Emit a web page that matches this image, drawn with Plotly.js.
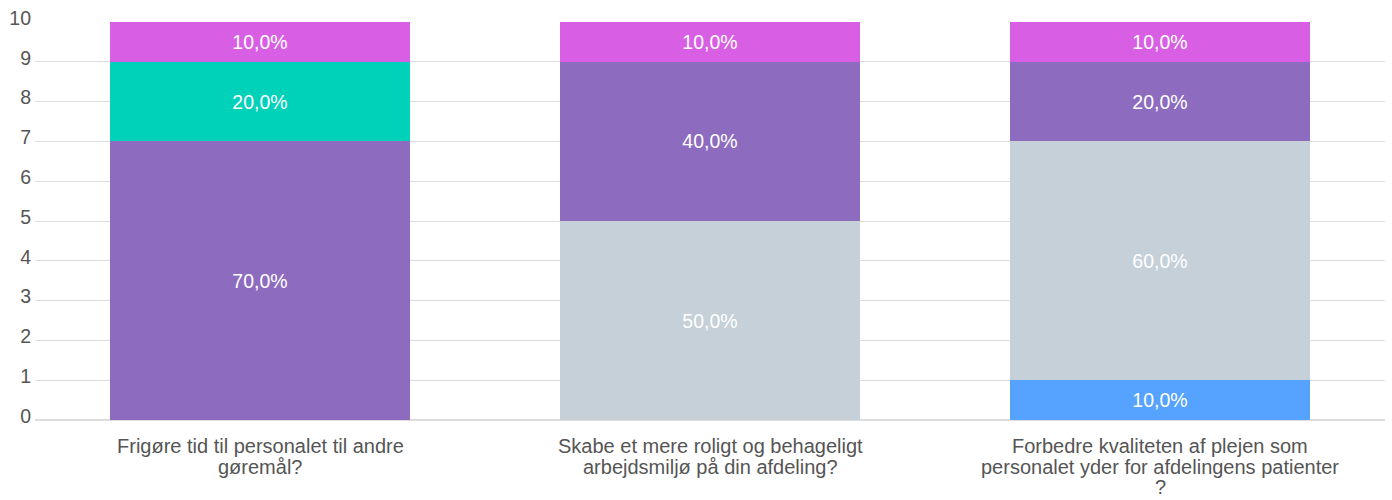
<!DOCTYPE html>
<html>
<head>
<meta charset="utf-8">
<script src="https://cdn.plot.ly/plotly-3.0.1.min.js"></script>
<style>html,body{margin:0;padding:0;background:#fff;}#chart{width:1392px;height:500px;}</style>
</head>
<body>
<div id="chart"></div>
<script>
const categories = [
  "Frigøre tid til personalet til andre gøremål?",
  "Skabe et mere roligt og behageligt arbejdsmiljø på din afdeling?",
  "Forbedre kvaliteten af plejen som personalet yder for afdelingens patienter ?"
];
const categoryLines = [
  ["Frigøre tid til personalet til andre", "gøremål?"],
  ["Skabe et mere roligt og behageligt", "arbejdsmiljø på din afdeling?"],
  ["Forbedre kvaliteten af plejen som", "personalet yder for afdelingens patienter", "?"]
];
const seriesBlue = [0, 0, 1];
const seriesGray = [0, 5, 6];
const seriesPurple = [7, 4, 2];
const seriesTeal = [2, 0, 0];
const seriesMagenta = [1, 1, 1];
const tickValues = [0,1,2,3,4,5,6,7,8,9,10];

const FONT = "Liberation Sans, Arial, sans-serif";
const allSeries = [
  {vals: seriesBlue, color: "#55a3fe"},
  {vals: seriesGray, color: "#c5d0d9"},
  {vals: seriesPurple, color: "#8d6bbf"},
  {vals: seriesTeal, color: "#00d1b9"},
  {vals: seriesMagenta, color: "#d85fe3"}
];
const totals = categories.map((c, i) => allSeries.reduce((s, a) => s + a.vals[i], 0));

const traces = allSeries.map(s => ({
  type: "bar",
  x: categories,
  y: s.vals.map(v => v === 0 ? null : v),
  marker: {color: s.color},
  text: s.vals.map((v, i) => v === 0 ? "" : (100 * v / totals[i]).toFixed(1).replace(".", ",") + "%"),
  textposition: "inside",
  insidetextanchor: "middle",
  textangle: 0,
  constraintext: "none",
  textfont: {color: "#ffffff", size: 19.5, family: FONT},
  hoverinfo: "skip"
}));

const annotations = [];
categoryLines.forEach((lines, i) => {
  lines.forEach((ln, j) => {
    annotations.push({
      x: categories[i], xref: "x",
      y: 0, yref: "paper",
      yanchor: "top", xanchor: "center",
      yshift: -13 - j * 20.5,
      text: ln, showarrow: false,
      font: {size: 20, color: "#555555", family: FONT}
    });
  });
});

const layout = {
  barmode: "stack",
  bargap: 0.3333,
  showlegend: false,
  margin: {l: 35, r: 7, t: 22, b: 80},
  paper_bgcolor: "#ffffff",
  plot_bgcolor: "#ffffff",
  font: {family: FONT, color: "#555555", size: 19.5},
  xaxis: {
    showticklabels: false,
    showgrid: false,
    showline: false,
    zeroline: false,
    ticks: ""
  },
  yaxis: {
    range: [0, 10],
    tickvals: tickValues,
    ticktext: tickValues.map(String),
    tickfont: {size: 19.5, color: "#555555", family: FONT},
    showgrid: true,
    gridcolor: "#dddddd",
    gridwidth: 1,
    zeroline: true,
    zerolinecolor: "#dddddd",
    zerolinewidth: 2,
    showline: false,
    ticks: "",
    ticklabelstandoff: 3,
    ticklabelshift: -4
  },
  annotations: annotations
};

Plotly.newPlot("chart", traces, layout, {displayModeBar: false, staticPlot: true});
</script>
</body>
</html>
